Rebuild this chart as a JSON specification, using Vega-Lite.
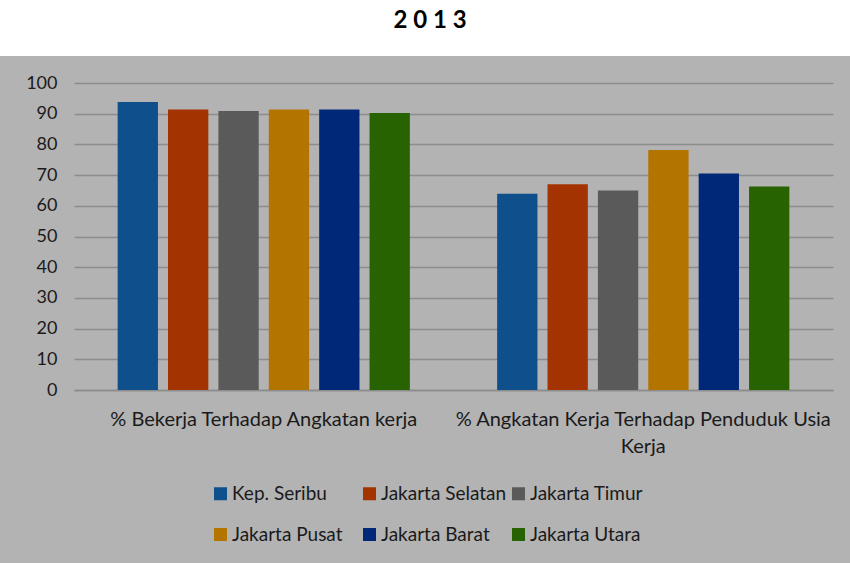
{
  "$schema": "https://vega.github.io/schema/vega-lite/v6.json",
  "background": "#b3b3b3",
  "padding": 0,
  "columns": 1,
  "spacing": 18,
  "config": {"font": "Lato", "view": {"stroke": null}},
  "concat": [
    {
      "width": 860,
      "height": 56,
      "view": {"fill": "white", "stroke": null},
      "data": {"values": [{"title": "2 0 1 3"}]},
      "mark": {"type": "text", "font": "Lato", "fontWeight": "bold", "fontSize": 24, "dy": -7, "color": "black"},
      "encoding": {"text": {"field": "title"}}
    },
    {
      "spacing": 0,
      "hconcat": [
        {
          "width": 17,
          "height": 307,
          "data": {"values": [{}]},
          "mark": {"type": "point", "opacity": 0},
          "encoding": {}
        },
        {
          "width": 759,
          "height": 307,
          "data": {
            "values": [
              {"indicator": "% Bekerja Terhadap Angkatan kerja", "region": "Kep. Seribu", "value": 93.8},
              {"indicator": "% Bekerja Terhadap Angkatan kerja", "region": "Jakarta Selatan", "value": 91.4},
              {"indicator": "% Bekerja Terhadap Angkatan kerja", "region": "Jakarta Timur", "value": 90.9},
              {"indicator": "% Bekerja Terhadap Angkatan kerja", "region": "Jakarta Pusat", "value": 91.4},
              {"indicator": "% Bekerja Terhadap Angkatan kerja", "region": "Jakarta Barat", "value": 91.4},
              {"indicator": "% Bekerja Terhadap Angkatan kerja", "region": "Jakarta Utara", "value": 90.2},
              {"indicator": "% Angkatan Kerja Terhadap Penduduk Usia Kerja", "region": "Kep. Seribu", "value": 63.9},
              {"indicator": "% Angkatan Kerja Terhadap Penduduk Usia Kerja", "region": "Jakarta Selatan", "value": 67.0},
              {"indicator": "% Angkatan Kerja Terhadap Penduduk Usia Kerja", "region": "Jakarta Timur", "value": 65.0},
              {"indicator": "% Angkatan Kerja Terhadap Penduduk Usia Kerja", "region": "Jakarta Pusat", "value": 78.2},
              {"indicator": "% Angkatan Kerja Terhadap Penduduk Usia Kerja", "region": "Jakarta Barat", "value": 70.5},
              {"indicator": "% Angkatan Kerja Terhadap Penduduk Usia Kerja", "region": "Jakarta Utara", "value": 66.3}
            ]
          },
          "mark": {"type": "bar"},
          "encoding": {
            "x": {
              "field": "indicator",
              "type": "nominal",
              "sort": null,
              "scale": {"paddingInner": 0.23, "paddingOuter": 0.115},
              "axis": {
                "title": null,
                "labelAngle": 0,
                "labelFontSize": 20,
                "labelColor": "#1a1a1a",
                "labelPadding": 19,
                "labelLimit": 0,
                "labelLineHeight": 27,
                "ticks": false,
                "domainColor": "#8c8c8c",
                "domainWidth": 1.5,
                "labelExpr": "datum.value == '% Angkatan Kerja Terhadap Penduduk Usia Kerja' ? ['% Angkatan Kerja Terhadap Penduduk Usia', 'Kerja'] : datum.label"
              }
            },
            "xOffset": {
              "field": "region",
              "type": "nominal",
              "sort": ["Kep. Seribu", "Jakarta Selatan", "Jakarta Timur", "Jakarta Pusat", "Jakarta Barat", "Jakarta Utara"],
              "scale": {"paddingInner": 0.2, "paddingOuter": 0}
            },
            "y": {
              "field": "value",
              "type": "quantitative",
              "scale": {"domain": [0, 100]},
              "axis": {
                "title": null,
                "values": [0, 10, 20, 30, 40, 50, 60, 70, 80, 90, 100],
                "grid": true,
                "gridColor": "#8c8c8c",
                "gridWidth": 1.5,
                "domain": false,
                "ticks": false,
                "labelFontSize": 18,
                "labelColor": "#1a1a1a",
                "labelPadding": 17,
                "minExtent": 57
              }
            },
            "color": {
              "field": "region",
              "type": "nominal",
              "scale": {
                "domain": ["Kep. Seribu", "Jakarta Selatan", "Jakarta Timur", "Jakarta Pusat", "Jakarta Barat", "Jakarta Utara"],
                "range": ["#0f4f8c", "#a33300", "#5a5a5a", "#b37400", "#002878", "#276300"]
              },
              "legend": {
                "title": null,
                "orient": "none",
                "legendX": 191,
                "legendY": 464,
                "padding": 20,
                "direction": "horizontal",
                "columns": 3,
                "gridAlign": "all",
                "symbolType": "square",
                "symbolSize": 169,
                "symbolStrokeWidth": 0,
                "labelFontSize": 19,
                "labelColor": "#1a1a1a",
                "columnPadding": 2,
                "rowPadding": 21,
                "labelOffset": 2,
                "labelLimit": 0
              }
            }
          }
        }
      ]
    }
  ]
}
